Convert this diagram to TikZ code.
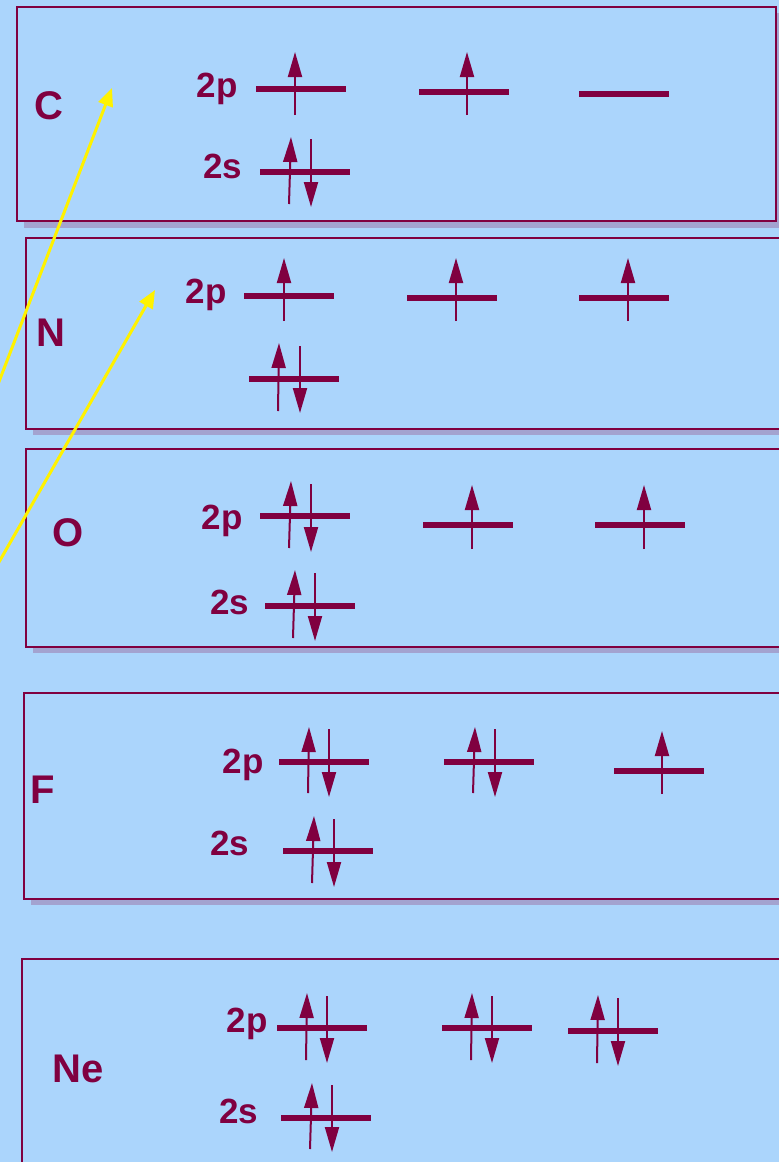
\documentclass[tikz,border=0pt]{standalone}
\usepackage{fontspec}
\setmainfont{Liberation Sans}
\usetikzlibrary{arrows.meta}
\definecolor{bgblue}{HTML}{ABD5FC}
\definecolor{mar}{HTML}{800040}
\definecolor{shd}{HTML}{A3A3D0}
\begin{document}
\begin{tikzpicture}[x=1pt,y=-1pt,
  box/.style={draw=mar, line width=1.8pt, fill=bgblue},
  shadowbox/.style={fill=shd},
  lvl/.style={draw=mar, line width=6pt},
  spin/.style={draw=mar, line width=2pt, -{Triangle[length=25pt,width=14pt]}},
  yarr/.style={draw=yellow, line width=3pt, -{Triangle[length=18pt,width=15pt]}},
  elem/.style={text=mar, font=\bfseries\fontsize{40}{44}\selectfont, inner sep=0pt, anchor=base},
  orb/.style={text=mar, font=\bfseries\fontsize{35}{40}\selectfont, inner sep=0pt, anchor=base}]
\useasboundingbox (0,0) rectangle (779,1162);
\fill[bgblue] (0,0) rectangle (779,1162);
\clip (0,0) rectangle (779,1162);
% ---------- C ----------
\fill[shadowbox] (24,13) rectangle (783,228);
\draw[box] (17,7) rectangle (776,221);
\node[elem] (labC) at (49,119) {C};
\node[orb] (C2p) at (217,97) {2p};
\node[orb] (C2s) at (223,178) {2s};
\draw[lvl] (256,89) -- (346,89); \draw[spin] (295,115) -- (295,52);
\draw[lvl] (419,92) -- (509,92); \draw[spin] (467,115) -- (467,52);
\draw[lvl] (579,94) -- (669,94);
\draw[lvl] (260,172) -- (350,172); \draw[spin] (289,204) -- (291,137); \draw[spin] (311,139) -- (311,207);
% ---------- N ----------
\fill[shadowbox] (33,244) rectangle (807,435);
\draw[box] (26,238) rectangle (800,429);
\node[elem] (labN) at (51,346) {N};
\node[orb] (N2p) at (206,303) {2p};
\draw[lvl] (244,296) -- (334,296); \draw[spin] (284,321) -- (284,258);
\draw[lvl] (407,298) -- (497,298); \draw[spin] (456,321) -- (456,258);
\draw[lvl] (579,298) -- (669,298); \draw[spin] (628,321) -- (628,258);
\draw[lvl] (249,379) -- (339,379); \draw[spin] (278,411) -- (279,343); \draw[spin] (300,346) -- (300,413);
% ---------- O ----------
\fill[shadowbox] (33,455) rectangle (807,653);
\draw[box] (26,449) rectangle (800,647);
\node[elem] (labO) at (68,546) {O};
\node[orb] (O2p) at (222,529) {2p};
\node[orb] (O2s) at (230,614) {2s};
\draw[lvl] (260,516) -- (350,516); \draw[spin] (289,548) -- (291,481); \draw[spin] (311,484) -- (311,552);
\draw[lvl] (423,525) -- (513,525); \draw[spin] (472,549) -- (472,485);
\draw[lvl] (595,525) -- (685,525); \draw[spin] (644,549) -- (644,485);
\draw[lvl] (265,606) -- (355,606); \draw[spin] (293,638) -- (295,570); \draw[spin] (315,573) -- (315,641);
% ---------- F ----------
\fill[shadowbox] (31,699) rectangle (807,905);
\draw[box] (24,693) rectangle (800,899);
\node[elem] (labF) at (43,803) {F};
\node[orb] (F2p) at (243,773) {2p};
\node[orb] (F2s) at (230,855) {2s};
\draw[lvl] (279,762) -- (369,762); \draw[spin] (308,793) -- (309,727); \draw[spin] (329,729) -- (329,797);
\draw[lvl] (444,762) -- (534,762); \draw[spin] (473,793) -- (475,727); \draw[spin] (495,729) -- (495,797);
\draw[lvl] (614,771) -- (704,771); \draw[spin] (662,794) -- (662,731);
\draw[lvl] (283,851) -- (373,851); \draw[spin] (312,883) -- (314,816); \draw[spin] (334,819) -- (334,887);
% ---------- Ne ----------
\fill[shadowbox] (29,965) rectangle (807,1190);
\draw[box] (22,959) rectangle (800,1180);
\node[elem] (labNe) at (78,1082) {Ne};
\node[orb] (Ne2p) at (247,1032) {2p};
\node[orb] (Ne2s) at (239,1123) {2s};
\draw[lvl] (277,1028) -- (367,1028); \draw[spin] (306,1060) -- (307,993); \draw[spin] (327,996) -- (327,1063);
\draw[lvl] (442,1028) -- (532,1028); \draw[spin] (471,1060) -- (472,993); \draw[spin] (492,996) -- (492,1063);
\draw[lvl] (568,1031) -- (658,1031); \draw[spin] (597,1063) -- (598,995); \draw[spin] (618,998) -- (618,1066);
\draw[lvl] (281,1118) -- (371,1118); \draw[spin] (310,1149) -- (312,1083); \draw[spin] (332,1085) -- (332,1152);
% ---------- yellow pointers ----------
\coordinate (y1s) at (-5,392);
\coordinate (y1e) at (112,88);
\coordinate (y2s) at (-5,569);
\coordinate (y2e) at (155,290);
\draw[yarr] (y1s) -- (y1e);
\draw[yarr] (y2s) -- (y2e);
\end{tikzpicture}
\end{document}
